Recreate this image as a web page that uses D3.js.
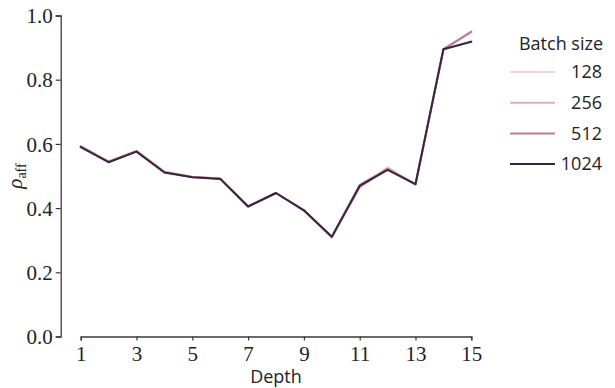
<!DOCTYPE html>
<html>
<head>
<meta charset="utf-8">
<script src="https://cdn.jsdelivr.net/npm/d3@7"></script>
<style>
  html, body { margin: 0; padding: 0; background: #fff; }
  svg { display: block; }
</style>
</head>
<body>
<svg id="chart" width="615" height="388"></svg>
<script>
// Depth levels on the x axis
const depths = [1, 2, 3, 4, 5, 6, 7, 8, 9, 10, 11, 12, 13, 14, 15];

// rho_aff per depth, one array per batch size
const batch128  = [0.594, 0.546, 0.579, 0.514, 0.498, 0.493, 0.405, 0.447, 0.392, 0.308, 0.462, 0.527, 0.472, 0.893, 0.921];
const batch256  = [0.593, 0.545, 0.578, 0.513, 0.497, 0.492, 0.405, 0.447, 0.393, 0.309, 0.465, 0.525, 0.473, 0.894, 0.948];
const batch512  = [0.592, 0.544, 0.577, 0.512, 0.497, 0.492, 0.405, 0.447, 0.393, 0.310, 0.472, 0.522, 0.474, 0.895, 0.950];
const batch1024 = [0.590, 0.543, 0.576, 0.511, 0.496, 0.491, 0.405, 0.447, 0.393, 0.311, 0.469, 0.519, 0.475, 0.895, 0.918];

const batchSizes = ["128", "256", "512", "1024"];
const batchColors = ["#f0d5d1", "#e3afb5", "#bb7b9a", "#35253f"];
const seriesValues = [batch128, batch256, batch512, batch1024];

const xTicks = [1, 3, 5, 7, 9, 11, 13, 15];
const yTicks = [0.0, 0.2, 0.4, 0.6, 0.8, 1.0];

const svg = d3.select("#chart");
const serif = "'Liberation Serif', 'Times New Roman', serif";
const sans = "'Open Sans', 'DejaVu Sans', sans-serif";
const axisColor = "#3a3a3a";

const x = d3.scaleLinear().domain([1, 15]).range([80.7, 471.3]);
const y = d3.scaleLinear().domain([0, 1]).range([336.5, 15.5]);

// y axis (left spine, offset from the data area)
const yAxis = svg.append("g")
  .attr("transform", "translate(60.7,0)")
  .call(d3.axisLeft(y).tickValues(yTicks).tickFormat(d3.format(".1f")).tickSizeOuter(0).tickSize(5).tickPadding(3));

// x axis (bottom spine, trimmed to the depth range)
const xAxis = svg.append("g")
  .attr("transform", "translate(0,336.5)")
  .call(d3.axisBottom(x).tickValues(xTicks).tickFormat(d3.format("d")).tickSizeOuter(0).tickSize(4).tickPadding(6));

[yAxis, xAxis].forEach(g => {
  g.select(".domain").attr("stroke", axisColor).attr("stroke-width", 1.3);
  g.selectAll(".tick line").attr("stroke", axisColor).attr("stroke-width", 1.2);
  g.selectAll(".tick text")
    .attr("fill", "#222")
    .style("font-family", serif)
    .style("font-size", "21px");
});
yAxis.selectAll(".tick text").attr("dy", "0.34em");

// axis titles
svg.append("text")
  .attr("x", 276).attr("y", 383)
  .attr("text-anchor", "middle")
  .style("font-family", sans).style("font-size", "18px")
  .attr("fill", "#222")
  .text("Depth");

const yLabel = svg.append("text")
  .attr("transform", "translate(22,176) rotate(-90)")
  .attr("text-anchor", "middle")
  .attr("fill", "#222")
  .style("font-family", serif);
yLabel.append("tspan").style("font-style", "italic").style("font-size", "21px").text("ρ");
yLabel.append("tspan").attr("dy", 4).style("font-size", "14px").text("aff");

// series lines
const line = d3.line()
  .x((d, i) => x(depths[i]))
  .y(d => y(d));

svg.append("g")
  .selectAll("path")
  .data(seriesValues)
  .join("path")
  .attr("d", d => line(d))
  .attr("fill", "none")
  .attr("stroke", (d, i) => batchColors[i])
  .attr("stroke-width", 2)
  .attr("stroke-linejoin", "round")
  .attr("stroke-linecap", "round");

// legend
const legend = svg.append("g");
legend.append("text")
  .attr("x", 561).attr("y", 50)
  .attr("text-anchor", "middle")
  .style("font-family", sans).style("font-size", "18px")
  .attr("fill", "#222")
  .text("Batch size");

const items = legend.selectAll("g.item")
  .data(batchSizes)
  .join("g")
  .attr("class", "item")
  .attr("transform", (d, i) => `translate(0,${72 + i * 30.7})`);

items.append("line")
  .attr("x1", 510).attr("x2", 555)
  .attr("stroke", (d, i) => batchColors[i])
  .attr("stroke-width", 2);

items.append("text")
  .attr("x", 602).attr("y", 0)
  .attr("dy", "0.35em")
  .attr("text-anchor", "end")
  .style("font-family", sans).style("font-size", "18px")
  .attr("fill", "#222")
  .text(d => d);
</script>
</body>
</html>
